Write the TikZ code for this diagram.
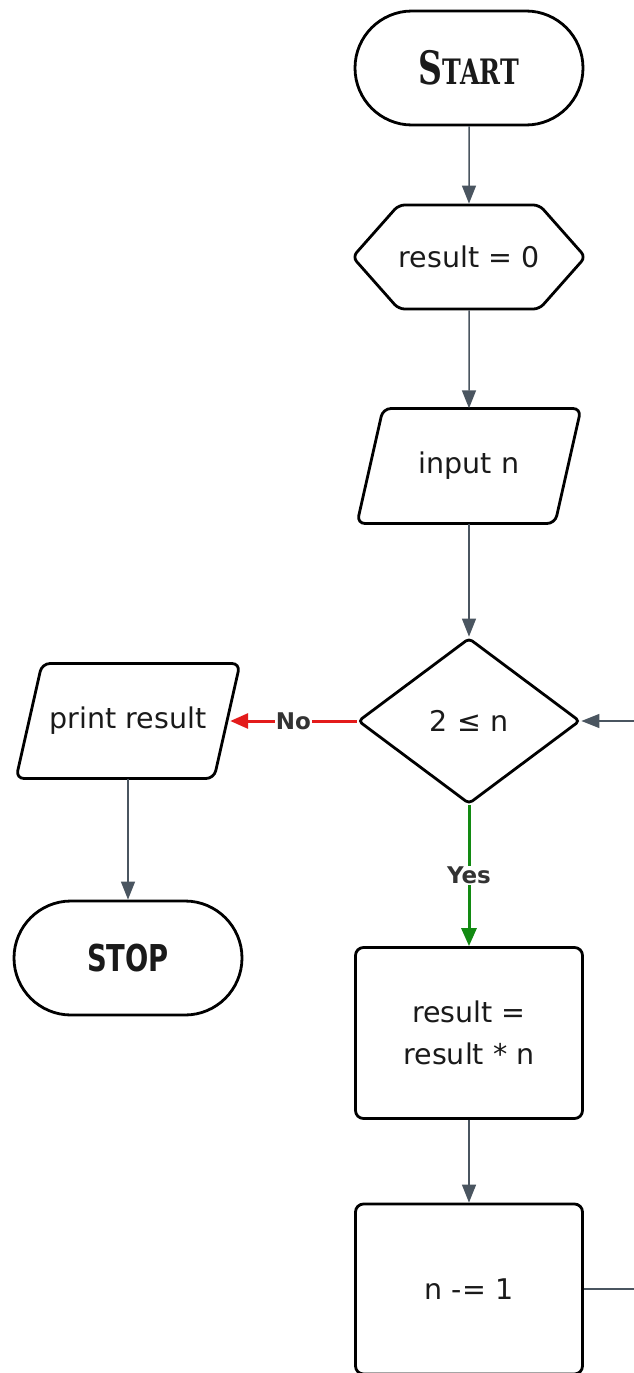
\documentclass[tikz,border=0pt]{standalone}
\usepackage{fontspec}
\usepackage{graphicx}
\setmainfont{DejaVu Sans}
\newfontfamily\termserif{DejaVu Serif}
\usetikzlibrary{shapes.geometric,shapes.misc,shapes.symbols,arrows.meta}
\definecolor{linegray}{HTML}{4A5560}
\definecolor{nored}{HTML}{E31B1B}
\definecolor{yesgreen}{HTML}{128A12}
\definecolor{lblgray}{HTML}{333333}
\definecolor{txt}{HTML}{1A1A1A}
\tikzset{
  box/.style={draw=black, line width=2.8pt, fill=white, text=txt, font=\fontsize{28.5}{34}\selectfont, align=center},
  term/.style={box, rounded rectangle, minimum width=228pt, minimum height=114pt, inner sep=0pt},
  hexa/.style={box, signal, signal to=east and west, signal pointer angle=97, minimum width=224pt, minimum height=104pt, inner sep=0pt, rounded corners=6pt},
  io/.style={rectangle, text=txt, font=\fontsize{28.5}{34}\selectfont, minimum width=200pt, minimum height=115pt, inner sep=0pt},
  ioline/.style={draw=black, line width=2.8pt, rounded corners=8pt, line join=round},
  decision/.style={box, diamond, minimum width=222pt, minimum height=166pt, inner sep=0pt, rounded corners=4pt},
  proc/.style={box, rectangle, rounded corners=8pt, minimum width=227pt, inner sep=0pt},
  conn/.style={draw=linegray, line width=1.5pt, -{Triangle[length=18pt,width=14pt]}},
  noconn/.style={draw=nored, line width=3pt, -{Triangle[length=18pt,width=15pt]}},
  yesconn/.style={draw=yesgreen, line width=3pt, -{Triangle[length=18pt,width=15pt]}},
  lbl/.style={fill=white, text=lblgray, font=\bfseries\fontsize{23}{27}\selectfont, inner sep=1pt}
}
\newcommand{\parallelo}[1]{%
  \draw[ioline] ([shift={(-86,-57.5)}]#1.center) -- ([shift={(112,-57.5)}]#1.center)
    -- ([shift={(86,57.5)}]#1.center) -- ([shift={(-112,57.5)}]#1.center) -- cycle;}
\begin{document}
\begin{tikzpicture}[x=1pt,y=-1pt]
\useasboundingbox (0,0) rectangle (634,1373);
\clip (0,0) rectangle (634,1373);
\fill[white] (0,0) rectangle (634,1373);
\node[term] (start) at (469,68) {\scalebox{0.72}[1]{\termserif\bfseries{\fontsize{46}{46}\selectfont S}{\fontsize{35}{35}\selectfont TART}}};
\node[hexa] (init) at (469,257) {result = 0};
\node[io] (input) at (469,466) {input n};
\parallelo{input}
\node[decision] (dec) at (469,721) {2 ≤ n};
\node[io] (print) at (128,721) {print result};
\parallelo{print}
\node[term] (stop) at (128,958) {\scalebox{0.74}[1]{\bfseries\fontsize{37}{37}\selectfont STOP}};
\node[proc, minimum height=171pt] (mult) at (469,1033) {result =\\[8pt]result * n};
\node[proc, minimum height=170pt] (dec1) at (469,1289) {n -= 1};
\coordinate (loopx) at (700,0);
\draw[conn] (start) -- (init);
\draw[conn] (init) -- (input);
\draw[conn] (input) -- (dec);
\draw[noconn] (dec.west) -- node[lbl]{No} ([xshift=2pt]print.east);
\draw[conn] (print) -- (stop);
\draw[yesconn] (dec.south) -- node[lbl]{Yes} (mult.north);
\draw[conn] (mult) -- (dec1);
\draw[conn] (dec1.east) -- (dec1.east -| loopx) |- (dec.east);
\end{tikzpicture}
\end{document}
